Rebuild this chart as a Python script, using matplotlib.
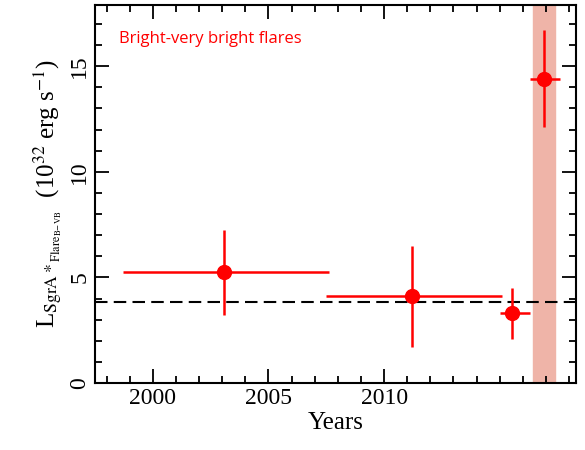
import matplotlib
matplotlib.use("Agg")
import matplotlib.pyplot as plt
from matplotlib.ticker import MultipleLocator

x = [2003.1, 2011.2, 2015.55, 2016.9]
y = [5.25, 4.1, 3.3, 14.4]
x_lo = [1998.7, 2007.5, 2015.0, 2016.3]
x_hi = [2007.6, 2015.1, 2016.3, 2017.6]
y_lo = [3.2, 1.7, 2.1, 12.1]
y_hi = [7.25, 6.5, 4.5, 16.7]
band = (2016.45, 2017.4)
mean_level = 3.85

fig = plt.figure(figsize=(5.85, 4.5), dpi=100)
ax = fig.add_axes([95/585, 1-383/450, 481/585, 378/450])
ax.axvspan(*band, color="#efb4a8", zorder=0)
ax.axhline(mean_level, color="black", ls=(0, (6, 3)), lw=1.5, zorder=1)
xerr = [[a - b for a, b in zip(x, x_lo)], [b - a for a, b in zip(x, x_hi)]]
yerr = [[a - b for a, b in zip(y, y_lo)], [b - a for a, b in zip(y, y_hi)]]
ax.errorbar(x, y, xerr=xerr, yerr=yerr, fmt="o", color="red", ms=10, elinewidth=1.8, capsize=0, zorder=3)
ax.set_xlim(1997.5, 2018.3)
ax.set_ylim(0, 17.9)
ax.set_xticks([2000, 2005, 2010])
ax.xaxis.set_minor_locator(MultipleLocator(1))
ax.yaxis.set_major_locator(MultipleLocator(5))
ax.yaxis.set_minor_locator(MultipleLocator(1))
ax.tick_params(which="both", direction="in", top=True, right=True, width=1.3)
ax.tick_params(which="major", length=10, labelsize=17)
ax.tick_params(which="minor", length=5)
for lab in ax.get_xticklabels() + ax.get_yticklabels():
    lab.set_fontfamily("Liberation Serif")
for lab in ax.get_yticklabels():
    lab.set_rotation(90); lab.set_va("center")
for s in ax.spines.values():
    s.set_linewidth(1.5)
ax.set_xlabel("Years", fontfamily="Liberation Serif", fontsize=18, labelpad=2)
ax.set_ylabel(r"L$_{\mathrm{SgrA*}_{\mathrm{Flare}_{\mathrm{B\!-\!VB}}}}$  (10$^{32}$ erg s$^{-1}$)",
              fontfamily="Liberation Serif", fontsize=18, math_fontfamily="stix")
ax.text(0.05, 0.9, "Bright-very bright flares", transform=ax.transAxes, color="red",
        fontfamily="Open Sans", fontsize=12)
fig.savefig("out.png")
